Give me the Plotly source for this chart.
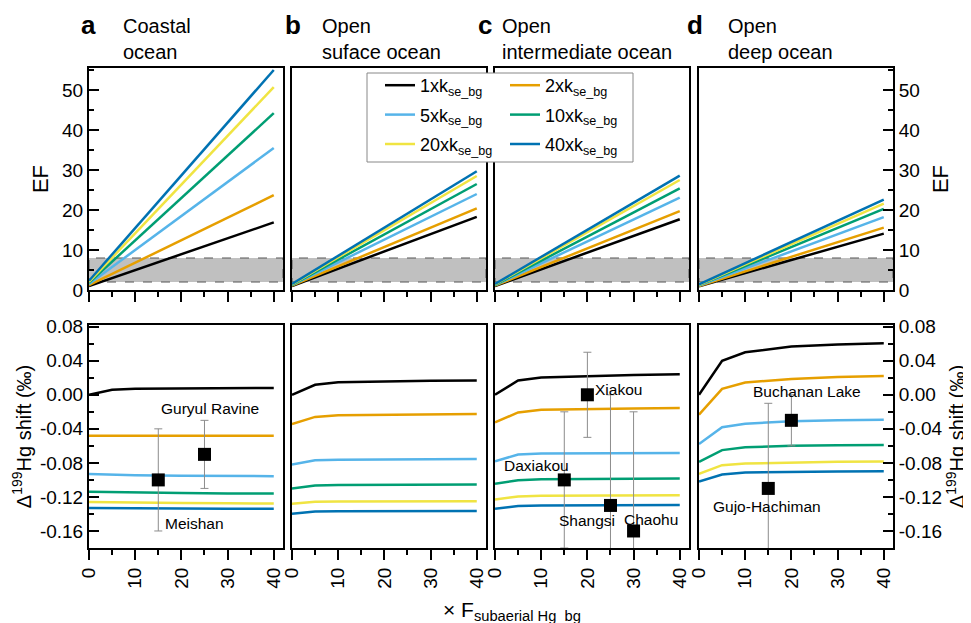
import plotly.graph_objects as go

# ---------------- data ----------------
series_names = ["1xk<sub>se_bg</sub>", "2xk<sub>se_bg</sub>", "5xk<sub>se_bg</sub>",
                "10xk<sub>se_bg</sub>", "20xk<sub>se_bg</sub>", "40xk<sub>se_bg</sub>"]
series_colors = ["#000000", "#E69F00", "#56B4E9", "#009E73", "#F0E442", "#0072B2"]
panel_letters = ["a", "b", "c", "d"]
panel_titles = ["Coastal<br>ocean", "Open<br>suface ocean", "Open<br>intermediate ocean", "Open<br>deep ocean"]

# EF (top row): x = 0 and x = 40
x_ef = [0, 40]
ef_a = [[1.0, 16.9], [1.2, 23.7], [1.5, 35.5], [1.8, 44.2], [2.0, 50.7], [2.3, 55.0]]
ef_b = [[1.0, 18.3], [1.1, 20.4], [1.2, 24.0], [1.3, 26.5], [1.4, 28.5], [1.5, 29.7]]
ef_c = [[1.0, 17.7], [1.1, 19.7], [1.2, 23.1], [1.3, 25.4], [1.4, 27.5], [1.5, 28.6]]
ef_d = [[0.9, 14.1], [1.0, 15.6], [1.1, 18.2], [1.2, 20.3], [1.3, 21.6], [1.4, 22.6]]

# Delta199Hg shift (bottom row)
x_d = [0, 5, 10, 20, 30, 40]
dhg_a = [
    [0.000, 0.006, 0.007, 0.0075, 0.0078, 0.008],
    [-0.048, -0.048, -0.048, -0.048, -0.048, -0.048],
    [-0.093, -0.094, -0.0945, -0.095, -0.0955, -0.0956],
    [-0.114, -0.1145, -0.115, -0.1155, -0.116, -0.116],
    [-0.126, -0.1265, -0.127, -0.1272, -0.1275, -0.1277],
    [-0.133, -0.1333, -0.1335, -0.1337, -0.1338, -0.1338],
]
dhg_b = [
    [0.0, 0.0117, 0.0148, 0.016, 0.0165, 0.0168],
    [-0.0343, -0.026, -0.024, -0.0233, -0.0228, -0.0226],
    [-0.082, -0.077, -0.0763, -0.0758, -0.0755, -0.0753],
    [-0.110, -0.1065, -0.106, -0.1057, -0.1055, -0.1054],
    [-0.128, -0.1257, -0.1254, -0.1252, -0.1251, -0.125],
    [-0.1397, -0.137, -0.1368, -0.1367, -0.1366, -0.1366],
]
dhg_c = [
    [0.0, 0.0168, 0.0203, 0.0222, 0.0234, 0.0242],
    [-0.0324, -0.0207, -0.0176, -0.0165, -0.016, -0.0156],
    [-0.078, -0.0702, -0.069, -0.0686, -0.0684, -0.0683],
    [-0.1046, -0.1003, -0.0993, -0.0988, -0.0985, -0.0983],
    [-0.123, -0.1194, -0.1186, -0.1182, -0.118, -0.1179],
    [-0.1339, -0.1307, -0.1301, -0.1298, -0.1297, -0.1296],
]
dhg_d = [
    [0.0, 0.040, 0.050, 0.0566, 0.059, 0.0605],
    [-0.0234, 0.007, 0.0144, 0.0187, 0.0208, 0.0222],
    [-0.0578, -0.0382, -0.034, -0.031, -0.030, -0.0293],
    [-0.0788, -0.065, -0.0617, -0.060, -0.0593, -0.059],
    [-0.093, -0.0827, -0.0808, -0.0795, -0.0788, -0.0784],
    [-0.102, -0.0937, -0.0913, -0.0905, -0.09, -0.0898],
]

# observed sites
site_panel = [0, 0, 2, 2, 2, 2, 3, 3]
site_name = ["Meishan", "Guryul Ravine", "Daxiakou", "Xiakou", "Shangsi", "Chaohu",
             "Gujo-Hachiman", "Buchanan Lake"]
site_x = [15, 25, 15, 20, 25, 30, 15, 20]
site_y = [-0.10, -0.07, -0.10, 0.0, -0.13, -0.16, -0.11, -0.03]
site_err = [0.06, 0.04, 0.08, 0.05, 0.13, 0.14, 0.10, 0.03]
label_x = [22.9, 26.2, 9.0, 26.8, 19.9, 33.7, 14.7, 23.4]
label_y = [-0.151, -0.0164, -0.083, 0.006, -0.148, -0.146, -0.1315, 0.004]

# EF background band
band_lo, band_hi = 2.0, 8.0

ef_ticks = [0, 10, 20, 30, 40, 50]
dhg_tickvals = [0.08, 0.04, 0.0, -0.04, -0.08, -0.12, -0.16]
dhg_ticktext = ["0.08", "0.04", "0.00", "-0.04", "-0.08", "-0.12", "-0.16"]
dhg_minor = [0.06, 0.02, -0.02, -0.06, -0.10, -0.14, -0.18]
x_tickvals = [0, 10, 20, 30, 40]

ef_all = [ef_a, ef_b, ef_c, ef_d]
dhg_all = [dhg_a, dhg_b, dhg_c, dhg_d]

# ---------------- figure ----------------
# the page body has an 8 px margin, so the figure is 8 px smaller and all
# page-pixel positions below are shifted by that offset
OFF = 8
W, H = 971 - OFF, 623 - OFF
FONT = "Arial, Liberation Sans, sans-serif"
cols_px = [(89, 283), (292, 486), (495, 689), (699, 893)]
top_px = (68, 290)
bot_px = (325, 548)


def px_x(v):
    return (v - OFF) / W


def px_y(v):
    return 1 - (v - OFF) / H


def xdom(c):
    return [px_x(c[0]), px_x(c[1])]


def ydom(r):
    return [px_y(r[1]), px_y(r[0])]


fig = go.Figure()
layout = dict(width=W, height=H, margin=dict(l=0, r=0, t=0, b=0, autoexpand=False),
              plot_bgcolor="white", paper_bgcolor="white",
              font=dict(family=FONT, color="black", size=18), shapes=[], annotations=[])

for p in range(4):
    for row in range(2):
        idx = p + 1 + 4 * row
        xa = "xaxis" if idx == 1 else f"xaxis{idx}"
        ya = "yaxis" if idx == 1 else f"yaxis{idx}"
        xr = "x" if idx == 1 else f"x{idx}"
        yr = "y" if idx == 1 else f"y{idx}"
        layout[xa] = dict(domain=xdom(cols_px[p]), anchor=yr, range=[0, 42], automargin=False,
                          showline=True, linecolor="black", linewidth=2, mirror=True,
                          showgrid=False, zeroline=False, ticks="outside", ticklen=10,
                          tickwidth=1.5, tickcolor="black", tickmode="array", tickvals=x_tickvals,
                          minor=dict(ticks="outside", ticklen=5, tickwidth=1.5, tickcolor="black",
                                     dtick=5, tick0=0, showgrid=False),
                          showticklabels=(row == 1), tickangle=-90,
                          tickfont=dict(size=19, family=FONT))
        yax = dict(domain=ydom(top_px if row == 0 else bot_px), anchor=xr, automargin=False,
                   showline=True, linecolor="black", linewidth=2, mirror=True,
                   showgrid=False, zeroline=False, tickfont=dict(size=19, family=FONT))
        if row == 0:
            yax.update(range=[0, 55.5], tickmode="array", tickvals=ef_ticks,
                       minor=dict(ticks="inside" if p in (0, 3) else "", ticklen=5, tickwidth=1.5,
                                  tickcolor="black", dtick=5, tick0=0, showgrid=False))
        else:
            yax.update(range=[-0.18, 0.082], tickmode="array", tickvals=dhg_tickvals,
                       ticktext=dhg_ticktext,
                       minor=dict(ticks="inside" if p in (0, 3) else "", ticklen=5, tickwidth=1.5,
                                  tickcolor="black", tickmode="array", tickvals=dhg_minor,
                                  showgrid=False))
        if p in (0, 3):
            yax.update(ticks="inside", ticklen=10, tickwidth=1.5, tickcolor="black",
                       side="left" if p == 0 else "right", showticklabels=True)
            ttl = "EF" if row == 0 else "Δ<sup>199</sup>Hg shift (‰)"
            if row == 0:
                sto = 7 if p == 0 else 14
            else:
                sto = 3
            yax["title"] = dict(text=ttl, font=dict(size=22 if row == 0 else 20, family=FONT),
                                standoff=sto)
        else:
            yax.update(ticks="", showticklabels=False)
        layout[ya] = yax

        if row == 0:
            layout["shapes"].append(dict(type="rect", xref=f"{xr} domain", yref=yr,
                                         x0=0, x1=1, y0=band_lo, y1=band_hi,
                                         fillcolor="#C0C0C0", layer="below",
                                         line=dict(color="#555555", width=1, dash="dash")))
            for s in range(6):
                fig.add_trace(go.Scatter(
                    x=x_ef, y=ef_all[p][s], mode="lines", xaxis=xr, yaxis=yr,
                    line=dict(color=series_colors[s], width=2.5), name=series_names[s],
                    showlegend=(p == 0), legend="legend" if s % 2 == 0 else "legend2",
                    legendgroup=f"g{s}", hoverinfo="skip"))
        else:
            for s in range(6):
                fig.add_trace(go.Scatter(
                    x=x_d, y=dhg_all[p][s], mode="lines", xaxis=xr, yaxis=yr,
                    line=dict(color=series_colors[s], width=2.5), name=series_names[s],
                    showlegend=False, legendgroup=f"g{s}", hoverinfo="skip"))
            sx = [site_x[i] for i in range(len(site_x)) if site_panel[i] == p]
            sy = [site_y[i] for i in range(len(site_x)) if site_panel[i] == p]
            se = [site_err[i] for i in range(len(site_x)) if site_panel[i] == p]
            if sx:
                fig.add_trace(go.Scatter(
                    x=sx, y=sy, mode="markers", xaxis=xr, yaxis=yr, showlegend=False,
                    marker=dict(symbol="square", size=13, color="black"),
                    error_y=dict(type="data", array=se, color="#8C8C8C", thickness=1, width=4)))
            for i in range(len(site_x)):
                if site_panel[i] == p:
                    layout["annotations"].append(dict(
                        x=label_x[i], y=label_y[i], xref=xr, yref=yr, text=site_name[i],
                        showarrow=False, font=dict(size=15.5, family=FONT, color="black"),
                        xanchor="center", yanchor="middle"))

# panel letters and titles
letter_x = [88, 293, 485, 695]
title_x = [121, 320, 500, 726]
for p in range(4):
    layout["annotations"].append(dict(x=px_x(letter_x[p]), y=px_y(25), xref="paper", yref="paper",
                                      text=f"<b>{panel_letters[p]}</b>", showarrow=False,
                                      font=dict(size=26, family=FONT), xanchor="center",
                                      yanchor="middle"))
    layout["annotations"].append(dict(x=px_x(title_x[p]), y=px_y(13), xref="paper", yref="paper",
                                      text=panel_titles[p], showarrow=False, align="left",
                                      font=dict(size=20, family=FONT), xanchor="left",
                                      yanchor="top"))

# x axis title
layout["annotations"].append(dict(x=px_x(512), y=px_y(596), xref="paper", yref="paper",
                                  text="× F<sub>subaerial Hg_bg</sub>", showarrow=False,
                                  font=dict(size=21, family=FONT), xanchor="center",
                                  yanchor="top"))

# legend box
layout["shapes"].append(dict(type="rect", xref="paper", yref="paper",
                             x0=px_x(367), x1=px_x(633), y0=px_y(162), y1=px_y(73),
                             fillcolor="white", line=dict(color="#888888", width=1), layer="above"))
legend_common = dict(bgcolor="rgba(0,0,0,0)", borderwidth=0, font=dict(size=18, family=FONT),
                     xanchor="left", yanchor="top", tracegroupgap=3, itemwidth=30)
layout["legend"] = dict(x=px_x(380), y=px_y(67), **legend_common)
layout["legend2"] = dict(x=px_x(505), y=px_y(67), **legend_common)

fig.update_layout(**layout)
fig.write_html("out.html")
